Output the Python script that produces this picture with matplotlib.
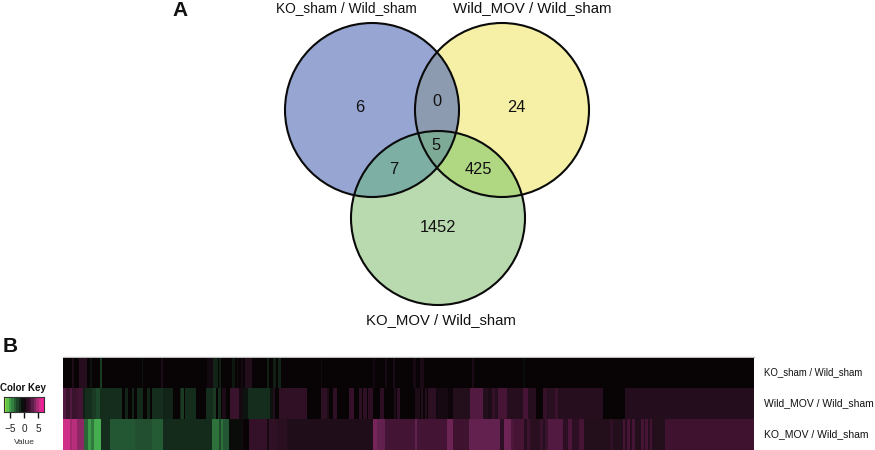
import numpy as np
import matplotlib
matplotlib.use("Agg")
import matplotlib.pyplot as plt
from matplotlib.colors import LinearSegmentedColormap
from matplotlib.patches import Circle, Polygon

plt.rcParams['font.family'] = ['Liberation Sans', 'DejaVu Sans']

W, H = 875, 450
set_names = ["KO_sham / Wild_sham", "Wild_MOV / Wild_sham", "KO_MOV / Wild_sham"]
venn_counts = ["6", "0", "24", "5", "7", "425", "1452"]

first_column, last_column = 63, 754
# heat-map rows: run ends (column number) and the log ratio of each run
ko_sham_ends = [72,74,79,87,90,92,100,102,142,143,161,163,207,213,218,219,221,232,235,237,238,241,243,245,252,267,269,273,276,278,281,321,322,373,375,385,387,393,395,413,416,420,424,472,474,523,525,754]
ko_sham_vals = [0,.8,0,1.2,0,-.5,0,-2,0,-.6,0,.8,0,.4,-1.2,0,-1,0,-.7,0,.5,0,.6,0,1,0,-1,0,-1,0,-1.2,0,.4,0,.4,0,.5,0,.7,0,.5,0,.7,0,.7,0,-.3,0]
wild_mov_ends = [66,70,72,77,79,83,85,92,96,100,122,125,128,132,134,137,143,147,150,152,163,173,180,181,184,185,196,206,213,216,218,221,222,226,230,239,243,248,270,273,275,279,307,321,327,329,333,337,349,354,359,362,363,367,368,373,380,384,394,396,397,400,415,420,421,423,425,427,428,436,438,448,453,470,483,488,492,495,498,507,523,528,536,543,547,548,555,558,603,625,754]
wild_mov_vals = [3,2,3,2,2.5,2.5,-1,-1.5,-2,-2.5,-1.5,0,-1.2,0,-1.2,0,-1.4,0,-1.3,0,-1.5,-1.2,0,-1.3,-2,0,-1.5,0,-1.5,-2,0,-1.5,0,.8,0,2,.5,-.6,-1.5,-.5,1,0,1.6,0,1.5,.8,0,1.6,0,1.8,0,1.5,0,1.6,0,1.4,0,1.4,0,.8,0,1.5,0,.8,0,1,.2,1,0,1.4,.4,.6,.2,1,3,1,.8,1.8,1.2,2.6,1.2,2.6,1.2,0,1.8,1,1.3,2,1.2,0,1.1]
ko_mov_ends = [70,72,77,78,84,88,91,94,101,110,135,152,163,212,219,221,223,229,242,243,249,267,269,277,287,373,377,385,415,417,420,447,453,469,500,504,511,514,524,527,530,540,543,545,548,563,568,572,579,584,610,613,623,625,627,630,632,635,641,644,645,648,650,652,665,754]
ko_mov_vals = [6,5,5.5,4.5,4.5,-3.5,-5,-4,-5.5,-1.5,-3,-2.8,-3.2,-1.4,-3.8,-2.5,-3.8,-3,-.3,.5,0,1.8,.5,1.6,1.3,.9,4,3.5,2.5,3.5,2.5,2.5,3.8,2.3,3.6,1.4,3.8,2.8,2.6,1.2,2.2,1.3,2,1.2,2,3,1.4,2.8,1.4,2.6,1,1.6,1,2.6,1.2,2.6,1.2,2.6,1,2.6,1.2,2.6,1.2,2.4,1,2.3]


def expand(ends, vals):
    widths = np.diff([first_column] + ends)
    return np.repeat(vals, widths)


cmap = LinearSegmentedColormap.from_list("key", [
    (0.0, (150/255, 228/255, 60/255)),
    (1.5/14.2, (70/255, 175/255, 80/255)),
    (4.1/14.2, (35/255, 85/255, 50/255)),
    (7.1/14.2, (8/255, 4/255, 6/255)),
    (8.1/14.2, (35/255, 14/255, 28/255)),
    (9.6/14.2, (68/255, 20/255, 52/255)),
    (10.7/14.2, (100/255, 34/255, 80/255)),
    (13.1/14.2, (205/255, 50/255, 135/255)),
    (1.0, (238/255, 30/255, 150/255)),
])

fig = plt.figure(figsize=(W/100, H/100), dpi=100)
canvas = fig.add_axes([0, 0, 1, 1])
canvas.set_xlim(0, W); canvas.set_ylim(H, 0); canvas.axis("off")

# Venn diagram
centres = [(372, 110), (502, 110), (438, 218)]
R = 87
fills = ["#96a5d2", "#f5f0a5", "#b9daaf"]
pair_fills = {(0, 1): "#8c9baf", (0, 2): "#7dafa5", (1, 2): "#b0d782"}
for c, f in zip(centres, fills):
    canvas.add_patch(Circle(c, R, fc=f, ec="none"))
for (a, b), f in pair_fills.items():
    clip = Circle(centres[a], R, transform=canvas.transData)
    p = Circle(centres[b], R, fc=f, ec="none")
    canvas.add_patch(p)
    p.set_clip_path(clip)
t = np.linspace(0, 2*np.pi, 2000, endpoint=False)
pts = []
for i, c in enumerate(centres):
    xy = np.c_[c[0] + R*np.cos(t), c[1] + R*np.sin(t)]
    keep = np.ones(len(xy), bool)
    for j, d in enumerate(centres):
        if j != i:
            keep &= np.hypot(xy[:, 0]-d[0], xy[:, 1]-d[1]) <= R
    pts.append(xy[keep])
pts = np.vstack(pts)
m = pts.mean(0)
pts = pts[np.argsort(np.arctan2(pts[:, 1]-m[1], pts[:, 0]-m[0]))]
canvas.add_patch(Polygon(pts, fc="#7daa96", ec="none"))
for c in centres:
    canvas.add_patch(Circle(c, R, fc="none", ec="#0a0a0a", lw=1.5))

for s, (x, y) in zip(venn_counts, [(360, 107), (437, 101), (516, 107), (436, 146), (394, 169), (478, 169), (438, 228)]):
    canvas.text(x, y, s, ha="center", va="center", fontsize=11.8, color="#111111")
for s, (x, y), fs in zip(set_names, [(346, 8), (532, 8), (441, 320)], [9.9, 10.8, 10.7]):
    canvas.text(x, y, s, ha="center", va="center", fontsize=fs, color="#111111")
canvas.text(172, 11, "A", ha="left", va="center", fontsize=15, fontweight="bold", color="#111111")
canvas.text(3, 347, "B", ha="left", va="center", fontsize=15, fontweight="bold", color="#111111")

# Heat map
matrix = np.vstack([expand(ko_sham_ends, ko_sham_vals),
                    expand(wild_mov_ends, wild_mov_vals),
                    expand(ko_mov_ends, ko_mov_vals)])
heat = fig.add_axes([first_column/W, 1-449.5/H, (last_column-first_column)/W, 92/H])
heat.imshow(matrix, aspect="auto", cmap=cmap, vmin=-7.1, vmax=7.1, interpolation="nearest",
            extent=(first_column, last_column, 3, 0))
heat.set_xticks([]); heat.set_yticks([])
for s in heat.spines.values():
    s.set_visible(False)
canvas.plot([first_column, last_column], [357, 357], color="#bdbdbd", lw=1)
for s, y, fs in zip(set_names, [372, 403, 434], [6.9, 7.45, 7.45]):
    canvas.text(764, y, s, ha="left", va="center", fontsize=fs, color="#111111")

# Colour key
key = fig.add_axes([4/W, 1-412/H, 40/W, 15/H])
key.imshow(np.linspace(-7.1, 7.1, 16)[None, :], aspect="auto", cmap=cmap, vmin=-7.1, vmax=7.1,
           interpolation="nearest", extent=(-7.1, 7.1, 0, 1))
key.set_yticks([])
key.set_xticks([-5, 0, 5])
key.set_xticklabels(["\u22125", "0", "5"], fontsize=7.2, color="#222222")
key.tick_params(axis="x", length=4, width=1, pad=5, color="#111111")
key.set_xlabel("Value", fontsize=6, labelpad=3, color="#333333")
for s in key.spines.values():
    s.set_linewidth(0.8); s.set_color("#333333")
canvas.text(23, 388, "Color Key", ha="center", va="center", fontsize=7, fontweight="bold", color="#111111")

fig.savefig("out.png", dpi=100)
